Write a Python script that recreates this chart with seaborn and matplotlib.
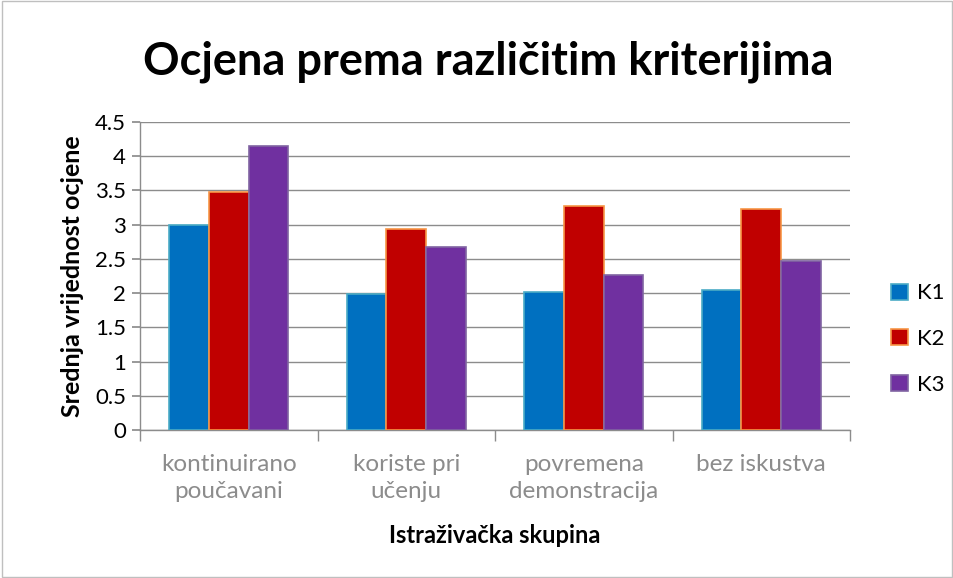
import matplotlib
matplotlib.use("Agg")
import matplotlib.pyplot as plt
import seaborn as sns
import pandas as pd
from matplotlib.patches import Patch

categories = ["kontinuirano\npoučavani", "koriste pri\nučenju", "povremena\ndemonstracija", "bez iskustva"]
series = ["K1", "K2", "K3"]
k1 = [3.00, 1.98, 2.02, 2.04]
k2 = [3.48, 2.93, 3.27, 3.23]
k3 = [4.15, 2.67, 2.27, 2.47]
yticks = [0, 0.5, 1, 1.5, 2, 2.5, 3, 3.5, 4, 4.5]
ytick_labels = ["0", "0.5", "1", "1.5", "2", "2.5", "3", "3.5", "4", "4.5"]

colors = ["#0070C0", "#C00000", "#7030A0"]
edges = ["#4BACC6", "#F79646", "#8064A2"]

rows = []
for s, vals in zip(series, [k1, k2, k3]):
    for c, v in zip(categories, vals):
        rows.append({"cat": c, "ser": s, "val": v})
df = pd.DataFrame(rows)

sns.set_theme(style="white")
plt.rcParams["font.family"] = ["Lato", "DejaVu Sans"]
plt.rcParams["text.color"] = "black"
plt.rcParams["axes.labelcolor"] = "black"

fig = plt.figure(figsize=(9.54, 5.78), dpi=100)
ax = fig.add_axes([140/954, 1-430/578, 710/954, 308/578])

sns.barplot(data=df, x="cat", y="val", hue="ser", order=categories, hue_order=series,
            palette=colors, width=0.67, ax=ax, legend=False, saturation=1)

for i, cont in enumerate(ax.containers):
    for p in cont:
        p.set_edgecolor(edges[i])
        p.set_linewidth(1.2)
        p.set_zorder(3)

ax.set_ylim(0, 4.5)
ax.set_xlim(-0.5, 3.5)
ax.set_yticks(yticks)
ax.set_yticklabels(ytick_labels, fontsize=16)
ax.yaxis.grid(True, color="#8C8C8C", linewidth=1.0)
ax.set_axisbelow(True)
for s in ["top", "right"]:
    ax.spines[s].set_visible(False)
for s in ["left", "bottom"]:
    ax.spines[s].set_color("#8C8C8C")
    ax.spines[s].set_linewidth(1.0)
ax.tick_params(axis="y", which="major", left=True, length=6, color="#8C8C8C", pad=4, labelcolor="black")
ax.set_xticks(range(len(categories)), minor=False)
ax.set_xticklabels(categories, linespacing=1.35)
ax.tick_params(axis="x", which="major", length=0, pad=17, labelsize=17.5, labelcolor="#8C8C8C")
ax.set_xticks([-0.5, 0.5, 1.5, 2.5, 3.5], minor=True)
ax.tick_params(axis="x", which="minor", bottom=True, length=8, color="#8C8C8C")

ax.set_xlabel("Istraživačka skupina", fontsize=17, fontweight="bold", labelpad=16)
ax.set_ylabel("Srednja vrijednost ocjene", fontsize=18, fontweight="bold", labelpad=8)

fig.text(488/954, 1-62/578, "Ocjena prema različitim kriterijima", ha="center", va="center",
         fontsize=32.5, fontweight="bold", color="black")

handles = [Patch(facecolor=colors[i], edgecolor=edges[i], linewidth=1.2, label=series[i]) for i in range(3)]
fig.legend(handles=handles, loc="center left", bbox_to_anchor=(891/954, 1-339/578), frameon=False,
           borderaxespad=0, borderpad=0,
           fontsize=16, handlelength=0.75, handleheight=0.75, labelspacing=1.15, handletextpad=0.4)

fig.add_artist(plt.Rectangle((0.002, 0.002), 0.996, 0.996, transform=fig.transFigure,
                             fill=False, edgecolor="#BFBFBF", linewidth=1))

fig.savefig("out.png", dpi=100)
